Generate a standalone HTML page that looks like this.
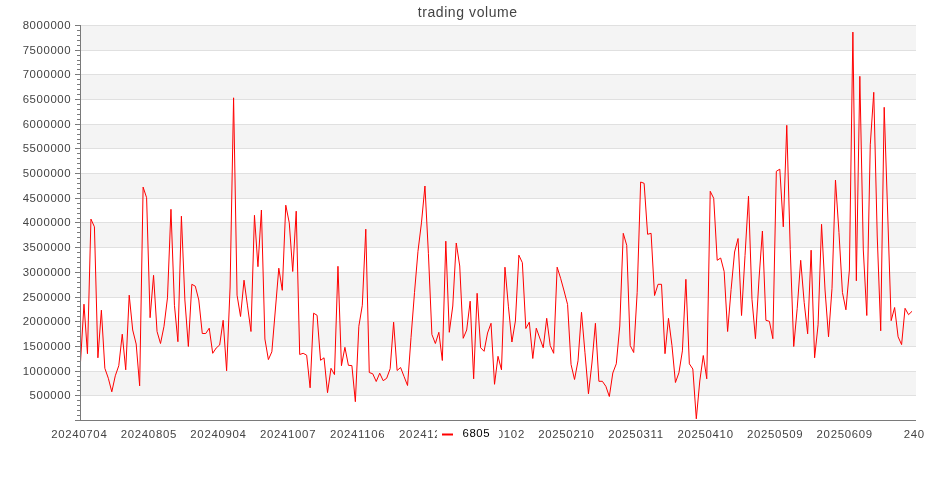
<!DOCTYPE html>
<html><head><meta charset="utf-8"><title>trading volume</title>
<style>
html,body{margin:0;padding:0;background:#fff;}
body{width:935px;height:500px;overflow:hidden;font-family:"Liberation Sans",sans-serif;}
svg{display:block;will-change:transform;}
.t{font-family:"Liberation Sans",sans-serif;font-size:11.4px;fill:#444;letter-spacing:0.6px;}
.title{font-family:"Liberation Sans",sans-serif;font-size:14px;fill:#444;letter-spacing:0.58px;}
.lg{font-family:"Liberation Sans",sans-serif;font-size:11.4px;fill:#000;letter-spacing:0.6px;}
</style></head><body>
<svg width="935" height="500" viewBox="0 0 935 500">
<rect x="0" y="0" width="935" height="500" fill="#fff"/>
<rect x="81" y="371" width="835" height="24" fill="#f4f4f4"/>
<rect x="81" y="321" width="835" height="25" fill="#f4f4f4"/>
<rect x="81" y="272" width="835" height="25" fill="#f4f4f4"/>
<rect x="81" y="222" width="835" height="25" fill="#f4f4f4"/>
<rect x="81" y="173" width="835" height="25" fill="#f4f4f4"/>
<rect x="81" y="124" width="835" height="24" fill="#f4f4f4"/>
<rect x="81" y="74" width="835" height="25" fill="#f4f4f4"/>
<rect x="81" y="25" width="835" height="25" fill="#f4f4f4"/>
<line x1="81" x2="916" y1="395.5" y2="395.5" stroke="#e0e0e0" stroke-width="1"/>
<line x1="81" x2="916" y1="371.5" y2="371.5" stroke="#e0e0e0" stroke-width="1"/>
<line x1="81" x2="916" y1="346.5" y2="346.5" stroke="#e0e0e0" stroke-width="1"/>
<line x1="81" x2="916" y1="321.5" y2="321.5" stroke="#e0e0e0" stroke-width="1"/>
<line x1="81" x2="916" y1="297.5" y2="297.5" stroke="#e0e0e0" stroke-width="1"/>
<line x1="81" x2="916" y1="272.5" y2="272.5" stroke="#e0e0e0" stroke-width="1"/>
<line x1="81" x2="916" y1="247.5" y2="247.5" stroke="#e0e0e0" stroke-width="1"/>
<line x1="81" x2="916" y1="222.5" y2="222.5" stroke="#e0e0e0" stroke-width="1"/>
<line x1="81" x2="916" y1="198.5" y2="198.5" stroke="#e0e0e0" stroke-width="1"/>
<line x1="81" x2="916" y1="173.5" y2="173.5" stroke="#e0e0e0" stroke-width="1"/>
<line x1="81" x2="916" y1="148.5" y2="148.5" stroke="#e0e0e0" stroke-width="1"/>
<line x1="81" x2="916" y1="124.5" y2="124.5" stroke="#e0e0e0" stroke-width="1"/>
<line x1="81" x2="916" y1="99.5" y2="99.5" stroke="#e0e0e0" stroke-width="1"/>
<line x1="81" x2="916" y1="74.5" y2="74.5" stroke="#e0e0e0" stroke-width="1"/>
<line x1="81" x2="916" y1="50.5" y2="50.5" stroke="#e0e0e0" stroke-width="1"/>
<line x1="81" x2="916" y1="25.5" y2="25.5" stroke="#e0e0e0" stroke-width="1"/>

<text x="467.7" y="16.6" text-anchor="middle" class="title">trading volume</text>
<text x="71.2" y="398.90" text-anchor="end" class="t">500000</text>
<text x="71.2" y="374.90" text-anchor="end" class="t">1000000</text>
<text x="71.2" y="349.90" text-anchor="end" class="t">1500000</text>
<text x="71.2" y="324.90" text-anchor="end" class="t">2000000</text>
<text x="71.2" y="300.90" text-anchor="end" class="t">2500000</text>
<text x="71.2" y="275.90" text-anchor="end" class="t">3000000</text>
<text x="71.2" y="250.90" text-anchor="end" class="t">3500000</text>
<text x="71.2" y="225.90" text-anchor="end" class="t">4000000</text>
<text x="71.2" y="201.90" text-anchor="end" class="t">4500000</text>
<text x="71.2" y="176.90" text-anchor="end" class="t">5000000</text>
<text x="71.2" y="151.90" text-anchor="end" class="t">5500000</text>
<text x="71.2" y="127.90" text-anchor="end" class="t">6000000</text>
<text x="71.2" y="102.90" text-anchor="end" class="t">6500000</text>
<text x="71.2" y="77.90" text-anchor="end" class="t">7000000</text>
<text x="71.2" y="53.90" text-anchor="end" class="t">7500000</text>
<text x="71.2" y="28.90" text-anchor="end" class="t">8000000</text>

<polyline fill="none" stroke="#ff0000" stroke-width="1" stroke-linejoin="bevel" points="80.50,362.0 83.98,304.2 87.46,353.7 90.94,219.1 94.42,226.8 97.90,357.8 101.38,310.2 104.85,368.3 108.33,378.3 111.81,391.8 115.29,375.8 118.77,365.7 122.25,334.2 125.73,369.8 129.21,295.2 132.69,330.0 136.17,344.0 139.65,385.8 143.12,187.1 146.60,197.7 150.08,317.7 153.56,275.3 157.04,331.5 160.52,343.5 164.00,326.3 167.48,297.8 170.96,209.3 174.44,305.3 177.92,341.7 181.40,216.2 184.88,300.0 188.35,346.5 191.83,284.3 195.31,286.2 198.79,300.0 202.27,333.5 205.75,333.5 209.23,328.2 212.71,353.3 216.19,348.0 219.67,345.0 223.15,320.3 226.62,370.8 230.10,287.0 233.58,97.8 237.06,295.2 240.54,316.5 244.02,280.2 247.50,305.9 250.98,331.5 254.46,215.3 257.94,266.7 261.42,210.0 264.90,339.0 268.38,359.6 271.85,351.8 275.33,310.0 278.81,268.2 282.29,290.3 285.77,205.2 289.25,222.8 292.73,271.5 296.21,211.2 299.69,354.5 303.17,353.3 306.65,355.2 310.12,387.8 313.60,313.2 317.08,315.3 320.56,360.3 324.04,357.8 327.52,392.7 331.00,368.3 334.48,374.6 337.96,266.3 341.44,365.7 344.92,347.3 348.40,365.3 351.88,365.6 355.35,401.7 358.83,326.3 362.31,305.3 365.79,229.2 369.27,372.5 372.75,373.8 376.23,381.5 379.71,373.2 383.19,380.7 386.67,378.3 390.15,368.7 393.62,322.2 397.10,370.5 400.58,367.5 404.06,376.5 407.54,385.5 411.02,337.5 414.50,292.5 417.98,251.3 421.46,222.8 424.94,186.0 428.42,253.7 431.90,334.5 435.38,343.5 438.85,332.3 442.33,360.5 445.81,241.2 449.29,332.3 452.77,306.0 456.25,243.0 459.73,266.0 463.21,338.3 466.69,330.0 470.17,301.2 473.65,378.8 477.12,293.3 480.60,347.7 484.08,351.3 487.56,333.0 491.04,323.3 494.52,384.3 498.00,356.3 501.48,369.8 504.96,267.2 508.44,306.8 511.92,342.0 515.40,321.0 518.88,255.2 522.35,262.7 525.83,328.5 529.31,322.2 532.79,358.5 536.27,328.2 539.75,338.0 543.23,347.7 546.71,318.3 550.19,345.5 553.67,353.3 557.15,267.2 560.62,278.3 564.10,291.0 567.58,304.5 571.06,364.5 574.54,379.5 578.02,360.8 581.50,312.3 584.98,352.8 588.46,393.8 591.94,363.0 595.42,323.3 598.90,381.3 602.38,381.3 605.85,386.3 609.33,396.5 612.81,373.0 616.29,363.8 619.77,326.0 623.25,233.3 626.73,245.3 630.21,345.5 633.69,352.5 637.17,292.5 640.65,182.0 644.12,183.3 647.60,234.3 651.08,233.3 654.56,295.5 658.04,284.3 661.52,284.3 665.00,353.7 668.48,318.3 671.96,345.5 675.44,382.5 678.92,372.8 682.40,350.9 685.88,279.3 689.35,363.8 692.83,369.0 696.31,418.8 699.79,381.0 703.27,355.5 706.75,378.8 710.23,191.3 713.71,198.3 717.19,260.3 720.67,258.0 724.15,271.5 727.62,331.5 731.10,289.5 734.58,252.0 738.06,238.5 741.54,315.5 745.02,255.6 748.50,196.2 751.98,299.3 755.46,338.7 758.94,280.0 762.42,231.0 765.90,320.3 769.38,321.3 772.85,338.7 776.33,171.3 779.81,169.2 783.29,226.8 786.77,125.3 790.25,249.5 793.73,346.5 797.21,308.3 800.69,260.3 804.17,302.3 807.65,333.8 811.12,250.2 814.60,357.8 818.08,324.8 821.56,224.3 825.04,290.0 828.52,336.8 832.00,288.3 835.48,180.0 838.96,232.5 842.44,292.5 845.92,309.8 849.40,270.0 852.88,32.1 856.35,280.8 859.83,76.3 863.31,250.0 866.79,315.5 870.27,144.8 873.75,92.3 877.23,236.0 880.71,330.8 884.19,107.3 887.67,213.0 891.15,320.7 894.62,307.5 898.10,336.8 901.58,344.6 905.06,308.3 908.54,314.7 912.02,311.3"/>
<line x1="80.5" x2="80.5" y1="25" y2="421" stroke="#7a7a7a" stroke-width="1"/>
<line x1="75" x2="81" y1="420.5" y2="420.5" stroke="#7a7a7a" stroke-width="1"/>
<line x1="77" x2="81" y1="415.5" y2="415.5" stroke="#7a7a7a" stroke-width="1"/>
<line x1="77" x2="81" y1="410.5" y2="410.5" stroke="#7a7a7a" stroke-width="1"/>
<line x1="77" x2="81" y1="405.5" y2="405.5" stroke="#7a7a7a" stroke-width="1"/>
<line x1="77" x2="81" y1="400.5" y2="400.5" stroke="#7a7a7a" stroke-width="1"/>
<line x1="75" x2="81" y1="395.5" y2="395.5" stroke="#7a7a7a" stroke-width="1"/>
<line x1="77" x2="81" y1="390.5" y2="390.5" stroke="#7a7a7a" stroke-width="1"/>
<line x1="77" x2="81" y1="385.5" y2="385.5" stroke="#7a7a7a" stroke-width="1"/>
<line x1="77" x2="81" y1="380.5" y2="380.5" stroke="#7a7a7a" stroke-width="1"/>
<line x1="77" x2="81" y1="376.5" y2="376.5" stroke="#7a7a7a" stroke-width="1"/>
<line x1="75" x2="81" y1="371.5" y2="371.5" stroke="#7a7a7a" stroke-width="1"/>
<line x1="77" x2="81" y1="366.5" y2="366.5" stroke="#7a7a7a" stroke-width="1"/>
<line x1="77" x2="81" y1="361.5" y2="361.5" stroke="#7a7a7a" stroke-width="1"/>
<line x1="77" x2="81" y1="356.5" y2="356.5" stroke="#7a7a7a" stroke-width="1"/>
<line x1="77" x2="81" y1="351.5" y2="351.5" stroke="#7a7a7a" stroke-width="1"/>
<line x1="75" x2="81" y1="346.5" y2="346.5" stroke="#7a7a7a" stroke-width="1"/>
<line x1="77" x2="81" y1="341.5" y2="341.5" stroke="#7a7a7a" stroke-width="1"/>
<line x1="77" x2="81" y1="336.5" y2="336.5" stroke="#7a7a7a" stroke-width="1"/>
<line x1="77" x2="81" y1="331.5" y2="331.5" stroke="#7a7a7a" stroke-width="1"/>
<line x1="77" x2="81" y1="326.5" y2="326.5" stroke="#7a7a7a" stroke-width="1"/>
<line x1="75" x2="81" y1="321.5" y2="321.5" stroke="#7a7a7a" stroke-width="1"/>
<line x1="77" x2="81" y1="316.5" y2="316.5" stroke="#7a7a7a" stroke-width="1"/>
<line x1="77" x2="81" y1="311.5" y2="311.5" stroke="#7a7a7a" stroke-width="1"/>
<line x1="77" x2="81" y1="306.5" y2="306.5" stroke="#7a7a7a" stroke-width="1"/>
<line x1="77" x2="81" y1="301.5" y2="301.5" stroke="#7a7a7a" stroke-width="1"/>
<line x1="75" x2="81" y1="297.5" y2="297.5" stroke="#7a7a7a" stroke-width="1"/>
<line x1="77" x2="81" y1="292.5" y2="292.5" stroke="#7a7a7a" stroke-width="1"/>
<line x1="77" x2="81" y1="287.5" y2="287.5" stroke="#7a7a7a" stroke-width="1"/>
<line x1="77" x2="81" y1="282.5" y2="282.5" stroke="#7a7a7a" stroke-width="1"/>
<line x1="77" x2="81" y1="277.5" y2="277.5" stroke="#7a7a7a" stroke-width="1"/>
<line x1="75" x2="81" y1="272.5" y2="272.5" stroke="#7a7a7a" stroke-width="1"/>
<line x1="77" x2="81" y1="267.5" y2="267.5" stroke="#7a7a7a" stroke-width="1"/>
<line x1="77" x2="81" y1="262.5" y2="262.5" stroke="#7a7a7a" stroke-width="1"/>
<line x1="77" x2="81" y1="257.5" y2="257.5" stroke="#7a7a7a" stroke-width="1"/>
<line x1="77" x2="81" y1="252.5" y2="252.5" stroke="#7a7a7a" stroke-width="1"/>
<line x1="75" x2="81" y1="247.5" y2="247.5" stroke="#7a7a7a" stroke-width="1"/>
<line x1="77" x2="81" y1="242.5" y2="242.5" stroke="#7a7a7a" stroke-width="1"/>
<line x1="77" x2="81" y1="237.5" y2="237.5" stroke="#7a7a7a" stroke-width="1"/>
<line x1="77" x2="81" y1="232.5" y2="232.5" stroke="#7a7a7a" stroke-width="1"/>
<line x1="77" x2="81" y1="227.5" y2="227.5" stroke="#7a7a7a" stroke-width="1"/>
<line x1="75" x2="81" y1="222.5" y2="222.5" stroke="#7a7a7a" stroke-width="1"/>
<line x1="77" x2="81" y1="218.5" y2="218.5" stroke="#7a7a7a" stroke-width="1"/>
<line x1="77" x2="81" y1="213.5" y2="213.5" stroke="#7a7a7a" stroke-width="1"/>
<line x1="77" x2="81" y1="208.5" y2="208.5" stroke="#7a7a7a" stroke-width="1"/>
<line x1="77" x2="81" y1="203.5" y2="203.5" stroke="#7a7a7a" stroke-width="1"/>
<line x1="75" x2="81" y1="198.5" y2="198.5" stroke="#7a7a7a" stroke-width="1"/>
<line x1="77" x2="81" y1="193.5" y2="193.5" stroke="#7a7a7a" stroke-width="1"/>
<line x1="77" x2="81" y1="188.5" y2="188.5" stroke="#7a7a7a" stroke-width="1"/>
<line x1="77" x2="81" y1="183.5" y2="183.5" stroke="#7a7a7a" stroke-width="1"/>
<line x1="77" x2="81" y1="178.5" y2="178.5" stroke="#7a7a7a" stroke-width="1"/>
<line x1="75" x2="81" y1="173.5" y2="173.5" stroke="#7a7a7a" stroke-width="1"/>
<line x1="77" x2="81" y1="168.5" y2="168.5" stroke="#7a7a7a" stroke-width="1"/>
<line x1="77" x2="81" y1="163.5" y2="163.5" stroke="#7a7a7a" stroke-width="1"/>
<line x1="77" x2="81" y1="158.5" y2="158.5" stroke="#7a7a7a" stroke-width="1"/>
<line x1="77" x2="81" y1="153.5" y2="153.5" stroke="#7a7a7a" stroke-width="1"/>
<line x1="75" x2="81" y1="148.5" y2="148.5" stroke="#7a7a7a" stroke-width="1"/>
<line x1="77" x2="81" y1="143.5" y2="143.5" stroke="#7a7a7a" stroke-width="1"/>
<line x1="77" x2="81" y1="139.5" y2="139.5" stroke="#7a7a7a" stroke-width="1"/>
<line x1="77" x2="81" y1="134.5" y2="134.5" stroke="#7a7a7a" stroke-width="1"/>
<line x1="77" x2="81" y1="129.5" y2="129.5" stroke="#7a7a7a" stroke-width="1"/>
<line x1="75" x2="81" y1="124.5" y2="124.5" stroke="#7a7a7a" stroke-width="1"/>
<line x1="77" x2="81" y1="119.5" y2="119.5" stroke="#7a7a7a" stroke-width="1"/>
<line x1="77" x2="81" y1="114.5" y2="114.5" stroke="#7a7a7a" stroke-width="1"/>
<line x1="77" x2="81" y1="109.5" y2="109.5" stroke="#7a7a7a" stroke-width="1"/>
<line x1="77" x2="81" y1="104.5" y2="104.5" stroke="#7a7a7a" stroke-width="1"/>
<line x1="75" x2="81" y1="99.5" y2="99.5" stroke="#7a7a7a" stroke-width="1"/>
<line x1="77" x2="81" y1="94.5" y2="94.5" stroke="#7a7a7a" stroke-width="1"/>
<line x1="77" x2="81" y1="89.5" y2="89.5" stroke="#7a7a7a" stroke-width="1"/>
<line x1="77" x2="81" y1="84.5" y2="84.5" stroke="#7a7a7a" stroke-width="1"/>
<line x1="77" x2="81" y1="79.5" y2="79.5" stroke="#7a7a7a" stroke-width="1"/>
<line x1="75" x2="81" y1="74.5" y2="74.5" stroke="#7a7a7a" stroke-width="1"/>
<line x1="77" x2="81" y1="69.5" y2="69.5" stroke="#7a7a7a" stroke-width="1"/>
<line x1="77" x2="81" y1="64.5" y2="64.5" stroke="#7a7a7a" stroke-width="1"/>
<line x1="77" x2="81" y1="60.5" y2="60.5" stroke="#7a7a7a" stroke-width="1"/>
<line x1="77" x2="81" y1="55.5" y2="55.5" stroke="#7a7a7a" stroke-width="1"/>
<line x1="75" x2="81" y1="50.5" y2="50.5" stroke="#7a7a7a" stroke-width="1"/>
<line x1="77" x2="81" y1="45.5" y2="45.5" stroke="#7a7a7a" stroke-width="1"/>
<line x1="77" x2="81" y1="40.5" y2="40.5" stroke="#7a7a7a" stroke-width="1"/>
<line x1="77" x2="81" y1="35.5" y2="35.5" stroke="#7a7a7a" stroke-width="1"/>
<line x1="77" x2="81" y1="30.5" y2="30.5" stroke="#7a7a7a" stroke-width="1"/>
<line x1="75" x2="81" y1="25.5" y2="25.5" stroke="#7a7a7a" stroke-width="1"/>

<line x1="75" x2="916" y1="420.5" y2="420.5" stroke="#7a7a7a" stroke-width="1"/>
<text x="79.30" y="437.6" text-anchor="middle" class="t" style="letter-spacing:0.7px">20240704</text>
<text x="148.88" y="437.6" text-anchor="middle" class="t" style="letter-spacing:0.7px">20240805</text>
<text x="218.47" y="437.6" text-anchor="middle" class="t" style="letter-spacing:0.7px">20240904</text>
<text x="288.05" y="437.6" text-anchor="middle" class="t" style="letter-spacing:0.7px">20241007</text>
<text x="357.63" y="437.6" text-anchor="middle" class="t" style="letter-spacing:0.7px">20241106</text>
<text x="427.22" y="437.6" text-anchor="middle" class="t" style="letter-spacing:0.7px">20241206</text>
<text x="496.80" y="437.6" text-anchor="middle" class="t" style="letter-spacing:0.7px">20250102</text>
<text x="566.38" y="437.6" text-anchor="middle" class="t" style="letter-spacing:0.7px">20250210</text>
<text x="635.97" y="437.6" text-anchor="middle" class="t" style="letter-spacing:0.7px">20250311</text>
<text x="705.55" y="437.6" text-anchor="middle" class="t" style="letter-spacing:0.7px">20250410</text>
<text x="775.13" y="437.6" text-anchor="middle" class="t" style="letter-spacing:0.7px">20250509</text>
<text x="844.72" y="437.6" text-anchor="middle" class="t" style="letter-spacing:0.7px">20250609</text>
<text x="914.30" y="437.6" text-anchor="middle" class="t" style="letter-spacing:0.7px">240</text>

<rect x="437" y="424" width="62" height="20" fill="#fff"/>
<line x1="442" x2="453" y1="434.5" y2="434.5" stroke="#ff0000" stroke-width="2"/>
<text x="462.5" y="437" class="lg">6805</text>
</svg>
</body></html>
